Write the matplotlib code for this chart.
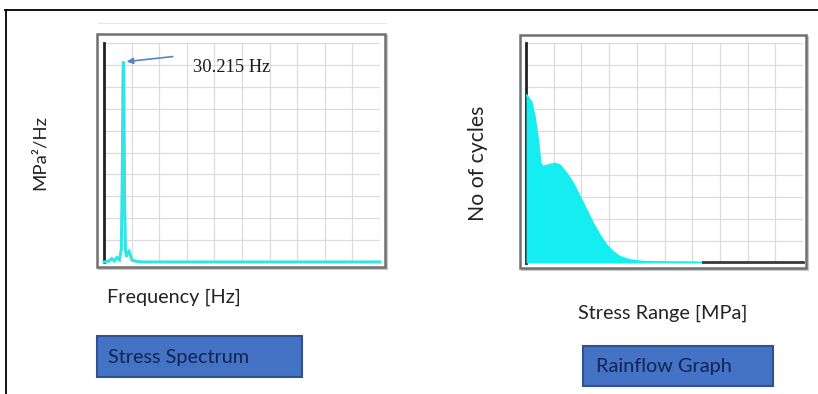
import matplotlib
matplotlib.use("Agg")
import matplotlib.pyplot as plt
from matplotlib.patches import Rectangle
from matplotlib.lines import Line2D
import numpy as np

W, H = 818, 394

# ---- data: stress spectrum (PSD) ----
freq_hz = [0, 8, 12, 16, 20, 24, 27, 28.5, 29.6, 30.215, 30.8, 32, 33.5, 35, 37, 39, 41, 44, 50, 60, 430]
psd = [0.0, 0.05, 0.15, 0.05, 0.2, 0.1, 0.6, 4.0, 8.6, 9.15, 8.6, 3.0, 0.5, 0.25, 0.45, 0.5, 0.3, 0.08, 0.03, 0.0, 0.0]
peak_freq = 30.215
peak_label = "30.215 Hz"

# ---- data: rainflow histogram (grid units) ----
stress_range = [0.0, 0.02, 0.2, 0.32, 0.44, 0.53, 0.62, 0.8, 1.05, 1.23, 1.47, 1.71, 1.95, 2.19,
                2.43, 2.67, 2.91, 3.15, 3.39, 3.75, 4.24, 6.4]
cycles = [7.6, 7.64, 7.33, 6.65, 5.59, 4.53, 4.38, 4.45, 4.53, 4.45, 4.08, 3.62, 3.02, 2.41,
          1.8, 1.27, 0.82, 0.51, 0.29, 0.14, 0.06, 0.03]

labels = {"psd_y": "MPa²/Hz", "psd_x": "Frequency [Hz]",
          "rf_y": "No of cycles", "rf_x": "Stress Range [MPa]",
          "psd_box": "Stress Spectrum", "rf_box": "Rainflow Graph"}

CYAN_LINE = "#33E3E6"
CYAN_FILL = "#14EEF0"
GRID = "#DCDCDC"
BOX_FACE = "#4472C4"
BOX_EDGE = "#2F528F"
BOX_TEXT = "#102452"
SANS = ["Lato", "DejaVu Sans"]
FS = 14.3

fig = plt.figure(figsize=(W / 100, H / 100), dpi=100)
fig.patch.set_facecolor("white")


def fx(x):
    return x / W


def fy(y):
    return 1 - y / H


def rect_px(x0, y0, x1, y1, z=1, **kw):
    r = Rectangle((fx(x0), fy(y1)), fx(x1) - fx(x0), fy(y0) - fy(y1),
                  transform=fig.transFigure, zorder=z, **kw)
    fig.add_artist(r)
    return r


def line_px(xs, ys, **kw):
    fig.add_artist(Line2D([fx(v) for v in xs], [fy(v) for v in ys],
                          transform=fig.transFigure, **kw))


# document border
line_px([5, 818], [9.5, 9.5], color="black", lw=1.3)
line_px([5.5, 5.5], [9.5, 394], color="black", lw=1.3)
# faint line above left chart
line_px([98, 386], [23, 23], color="#E6E6E6", lw=0.8)

# chart frames (shadow + border)
for (x0, y0, x1, y1) in [(97, 34, 385, 267), (520, 35, 806, 268)]:
    rect_px(x0 + 2, y0 + 2, x1 + 2, y1 + 2, z=-2, facecolor="none", edgecolor="#C8C8C8", lw=1.5)
    rect_px(x0, y0, x1, y1, z=-1, facecolor="white", edgecolor="#707070", lw=1.8)


def make_ax(x0, y0, x1, y1):
    ax = fig.add_axes([fx(x0), fy(y1), fx(x1) - fx(x0), fy(y0) - fy(y1)])
    ax.set_zorder(2)
    ax.patch.set_alpha(0)
    for s in ["top", "right", "bottom"]:
        ax.spines[s].set_visible(False)
    ax.spines["left"].set_color("#222222")
    ax.spines["left"].set_linewidth(2.0)
    ax.tick_params(length=0, labelleft=False, labelbottom=False)
    ax.grid(True, color=GRID, lw=0.9)
    ax.set_axisbelow(True)
    return ax


# ---- left: stress spectrum ----
ax1 = make_ax(104, 43, 380, 262)
ax1.set_xlim(0, 430)
ax1.set_ylim(0, 10)
ax1.set_xticks(np.arange(0, 431, 43))
ax1.set_yticks(np.arange(0, 11, 1))
ax1.plot(freq_hz, psd, color=CYAN_LINE, lw=2.2, solid_joinstyle="miter", clip_on=False, zorder=3)
ax1.annotate("", xy=(peak_freq + 5, 9.15), xytext=(107, 9.38),
             arrowprops=dict(arrowstyle="-|>", color="#5B84C4", lw=1.2,
                             shrinkA=0, shrinkB=0, mutation_scale=9),
             zorder=4)
ax1.text(139, 8.9, peak_label, fontsize=13.3, family="Liberation Serif",
         color="#1A1A1A", va="center", ha="left", zorder=4)

# ---- right: rainflow graph ----
ax2 = make_ax(526, 43, 803, 263)
ax2.set_xlim(0, 10)
ax2.set_ylim(0, 10)
ax2.set_xticks(np.arange(0, 11, 1))
ax2.set_yticks(np.arange(0, 11, 1))
ax2.fill_between(stress_range, 0, cycles, color=CYAN_FILL, lw=0, zorder=3)
ax2.plot(stress_range, cycles, color=CYAN_FILL, lw=1.2, zorder=3)
ax2.plot([stress_range[-1], 10], [0.03, 0.03], color="#3A3A3A", lw=2.0, zorder=3, clip_on=False)

# ---- axis titles ----
fig.text(fx(40), fy(153), labels["psd_y"], rotation=90, ha="center", va="center",
         fontsize=FS - 1, family=SANS, color="#222222")
fig.text(fx(107), fy(297), labels["psd_x"], ha="left", va="center",
         fontsize=FS, family=SANS, color="#222222")
fig.text(fx(478), fy(163), labels["rf_y"], rotation=90, ha="center", va="center",
         fontsize=FS + 1, family=SANS, color="#222222")
fig.text(fx(578), fy(313), labels["rf_x"], ha="left", va="center",
         fontsize=FS, family=SANS, color="#222222")

# ---- blue labels ----
for (x0, y0, x1, y1, key, tx) in [(97, 336, 302, 377, "psd_box", 108), (583, 346, 773, 386, "rf_box", 596)]:
    rect_px(x0, y0, x1, y1, facecolor=BOX_FACE, edgecolor=BOX_EDGE, lw=1.5)
    fig.text(fx(tx), fy((y0 + y1) / 2 + 0.5), labels[key], ha="left", va="center",
             fontsize=FS, family=SANS, color=BOX_TEXT)

fig.savefig("out.png", dpi=100, facecolor="white")
